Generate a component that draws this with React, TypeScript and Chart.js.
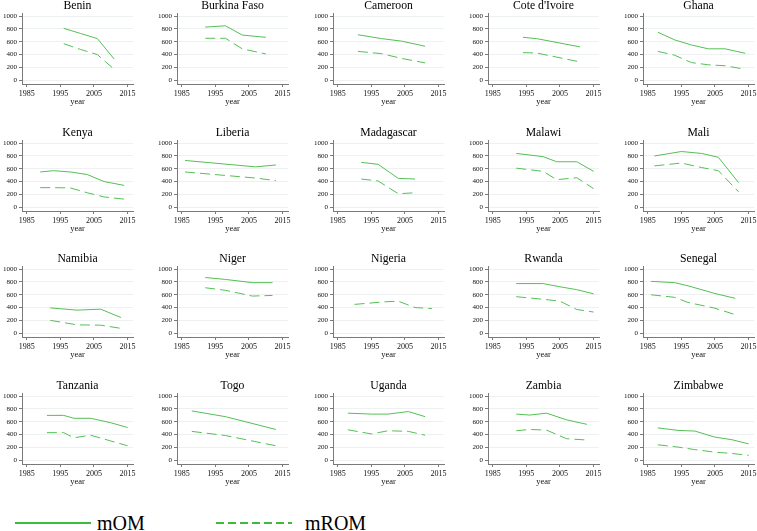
import React, { useEffect, useRef } from "react";
import { Chart, registerables } from "chart.js";

Chart.register(...registerables);

// ---- Data ----
const X_TICKS = [1985, 1995, 2005, 2015];
const Y_TICKS = [0, 200, 400, 600, 800, 1000];

const beninYears = [1996, 2001, 2006, 2011];
const beninMOM = [810, 730, 650, 330];
const beninMROM = [570, 480, 400, 170];

const burkinaYears = [1992, 1998, 2003, 2010];
const burkinaMOM = [830, 850, 705, 670];
const burkinaMROM = [655, 655, 490, 410];

const cameroonYears = [1991, 1998, 2004, 2011];
const cameroonMOM = [710, 650, 610, 530];
const cameroonMROM = [450, 415, 340, 270];

const coteYears = [1994, 1998, 2011];
const coteMOM = [670, 650, 520];
const coteMROM = [430, 425, 285];

const ghanaYears = [1988, 1993, 1998, 2003, 2008, 2014];
const ghanaMOM = [750, 630, 550, 490, 490, 420];
const ghanaMROM = [450, 390, 275, 240, 225, 170];

const kenyaYears = [1989, 1993, 1998, 2003, 2008, 2014];
const kenyaMOM = [550, 570, 550, 510, 400, 340];
const kenyaMROM = [305, 305, 300, 225, 160, 125];

const liberiaYears = [1986, 2007, 2013];
const liberiaMOM = [730, 630, 660];
const liberiaMROM = [550, 455, 415];

const madagascarYears = [1992, 1997, 2003, 2008];
const madagascarMOM = [700, 670, 450, 440];
const madagascarMROM = [440, 410, 210, 225];

const malawiYears = [1992, 2000, 2004, 2010, 2015];
const malawiMOM = [840, 790, 710, 710, 560];
const malawiMROM = [610, 560, 430, 460, 290];

const maliYears = [1987, 1995, 2001, 2006, 2012];
const maliMOM = [800, 870, 840, 780, 385];
const maliMROM = [645, 690, 620, 570, 240];

const namibiaYears = [1992, 2000, 2007, 2013];
const namibiaMOM = [395, 360, 375, 245];
const namibiaMROM = [200, 130, 125, 75];

const nigerYears = [1992, 1998, 2006, 2012];
const nigerMOM = [870, 840, 790, 790];
const nigerMROM = [710, 670, 580, 590];

const nigeriaYears = [1990, 1999, 2003, 2008, 2013];
const nigeriaMOM: (number | null)[] = [null, null, null, null, null];
const nigeriaMROM = [450, 490, 500, 400, 385];

const rwandaYears = [1992, 2000, 2005, 2010, 2015];
const rwandaMOM = [775, 775, 725, 680, 615];
const rwandaMROM = [570, 530, 500, 370, 330];

const senegalYears = [1986, 1993, 1997, 2005, 2011];
const senegalMOM = [810, 790, 740, 620, 545];
const senegalMROM = [600, 560, 480, 390, 290];

const tanzaniaYears = [1991, 1996, 1999, 2004, 2010, 2015];
const tanzaniaMOM = [700, 700, 655, 655, 585, 510];
const tanzaniaMROM = [430, 430, 350, 390, 300, 225];

const togoYears = [1988, 1998, 2013];
const togoMOM = [770, 680, 480];
const togoMROM = [450, 385, 225];

const ugandaYears = [1988, 1995, 2000, 2006, 2011];
const ugandaMOM = [735, 720, 720, 760, 680];
const ugandaMROM = [475, 410, 460, 450, 390];

const zambiaYears = [1992, 1996, 2001, 2007, 2013];
const zambiaMOM = [720, 705, 735, 630, 560];
const zambiaMROM = [460, 480, 470, 335, 315];

const zimbabweYears = [1988, 1994, 1999, 2005, 2010, 2015];
const zimbabweMOM = [505, 465, 455, 360, 320, 255];
const zimbabweMROM = [240, 205, 165, 125, 105, 75];

const PANELS: { title: string; years: number[]; mom: (number | null)[]; mrom: number[] }[] = [
  { title: "Benin", years: beninYears, mom: beninMOM, mrom: beninMROM },
  { title: "Burkina Faso", years: burkinaYears, mom: burkinaMOM, mrom: burkinaMROM },
  { title: "Cameroon", years: cameroonYears, mom: cameroonMOM, mrom: cameroonMROM },
  { title: "Cote d'Ivoire", years: coteYears, mom: coteMOM, mrom: coteMROM },
  { title: "Ghana", years: ghanaYears, mom: ghanaMOM, mrom: ghanaMROM },
  { title: "Kenya", years: kenyaYears, mom: kenyaMOM, mrom: kenyaMROM },
  { title: "Liberia", years: liberiaYears, mom: liberiaMOM, mrom: liberiaMROM },
  { title: "Madagascar", years: madagascarYears, mom: madagascarMOM, mrom: madagascarMROM },
  { title: "Malawi", years: malawiYears, mom: malawiMOM, mrom: malawiMROM },
  { title: "Mali", years: maliYears, mom: maliMOM, mrom: maliMROM },
  { title: "Namibia", years: namibiaYears, mom: namibiaMOM, mrom: namibiaMROM },
  { title: "Niger", years: nigerYears, mom: nigerMOM, mrom: nigerMROM },
  { title: "Nigeria", years: nigeriaYears, mom: nigeriaMOM, mrom: nigeriaMROM },
  { title: "Rwanda", years: rwandaYears, mom: rwandaMOM, mrom: rwandaMROM },
  { title: "Senegal", years: senegalYears, mom: senegalMOM, mrom: senegalMROM },
  { title: "Tanzania", years: tanzaniaYears, mom: tanzaniaMOM, mrom: tanzaniaMROM },
  { title: "Togo", years: togoYears, mom: togoMOM, mrom: togoMROM },
  { title: "Uganda", years: ugandaYears, mom: ugandaMOM, mrom: ugandaMROM },
  { title: "Zambia", years: zambiaYears, mom: zambiaMOM, mrom: zambiaMROM },
  { title: "Zimbabwe", years: zimbabweYears, mom: zimbabweMOM, mrom: zimbabweMROM },
];

// ---- Styles ----
const FONT = "'Liberation Serif', 'Times New Roman', serif";
const LINE_COLOR = "#55bf55";
const LEGEND_COLOR = "#3dbb3d";
const AXIS_COLOR = "#7a7a7a";
const GRID_COLOR = "#edf1f1";
const TEXT_COLOR = "#111";
const PANEL_W = 155;
const PANEL_H = 126;
const COL_STEP = 155.25;
const ROW_STEP = 126.5;

// Panel title centred over the plot region (like the reference), drawn as canvas text
const plotTitlePlugin = {
  id: "plotTitle",
  afterDraw(chart: any, _args: any, opts: any) {
    const { ctx, chartArea } = chart;
    ctx.save();
    ctx.font = `normal 11.7px ${FONT}`;
    ctx.fillStyle = "#000";
    ctx.textAlign = "center";
    ctx.textBaseline = "middle";
    ctx.fillText(opts.text, (chartArea.left + chartArea.right) / 2, 5.8);
    ctx.restore();
  },
};

function Panel(props: { title: string; years: number[]; mom: (number | null)[]; mrom: number[]; left: number; top: number }) {
  const ref = useRef<HTMLCanvasElement>(null);
  useEffect(() => {
    if (!ref.current) return;
    const { title, years, mom, mrom } = props;
    const chart = new Chart(ref.current, {
      type: "line",
      data: {
        datasets: [
          {
            label: "mOM",
            data: years.map((x, i) => ({ x, y: mom[i] ?? null })) as any,
            borderColor: LINE_COLOR,
            borderWidth: 1,
            pointRadius: 0,
            tension: 0,
            fill: false,
          },
          {
            label: "mROM",
            data: years.map((x, i) => ({ x, y: mrom[i] })) as any,
            borderColor: LINE_COLOR,
            borderWidth: 1,
            borderDash: [10, 5],
            pointRadius: 0,
            tension: 0,
            fill: false,
          },
        ],
      },
      plugins: [plotTitlePlugin as any],
      options: {
        responsive: false,
        animation: false,
        events: [],
        layout: { padding: { top: 13, right: 22, bottom: 18, left: 0 } },
        plugins: {
          legend: { display: false },
          tooltip: { enabled: false },
          title: { display: false },
          plotTitle: { text: title },
        } as any,
        scales: {
          x: {
            type: "linear",
            min: 1983.6,
            max: 2016.6,
            afterBuildTicks: (s: any) => {
              s.ticks = X_TICKS.map((v) => ({ value: v }));
            },
            afterFit: (s: any) => {
              s.height = 24;
            },
            grid: { drawOnChartArea: false, drawTicks: true, tickLength: 3, tickColor: AXIS_COLOR },
            border: { color: AXIS_COLOR, width: 1 },
            ticks: {
              font: { family: FONT, size: 8 },
              color: TEXT_COLOR,
              padding: 2,
              maxRotation: 0,
              autoSkip: false,
              callback: (v: any) => String(v),
            },
            title: {
              display: true,
              text: "year",
              color: TEXT_COLOR,
              font: { family: FONT, size: 8.5, lineHeight: 1 },
              padding: { top: 0, bottom: 2 },
            },
          },
          y: {
            type: "linear",
            min: -60,
            max: 1050,
            afterBuildTicks: (s: any) => {
              s.ticks = Y_TICKS.map((v) => ({ value: v }));
            },
            afterFit: (s: any) => {
              s.width = 22;
            },
            grid: { color: GRID_COLOR, lineWidth: 1, drawTicks: true, tickLength: 3, tickColor: AXIS_COLOR },
            border: { color: AXIS_COLOR, width: 1 },
            ticks: {
              font: { family: FONT, size: 7 },
              color: TEXT_COLOR,
              padding: 2,
              autoSkip: false,
              callback: (v: any) => String(v),
            },
          },
        },
      },
    });
    return () => chart.destroy();
  }, []);
  return (
    <canvas
      ref={ref}
      width={PANEL_W}
      height={PANEL_H}
      style={{ position: "absolute", left: props.left, top: props.top, width: PANEL_W, height: PANEL_H }}
    />
  );
}

export default function App() {
  return (
    <div style={{ position: "absolute", left: 0, top: 0, width: 757, height: 531, background: "#fff", overflow: "hidden" }}>
      {PANELS.map((p, i) => {
        const c = i % 5;
        const r = Math.floor(i / 5);
        return (
          <Panel
            key={p.title}
            title={p.title}
            years={p.years}
            mom={p.mom}
            mrom={p.mrom}
            left={Math.round(c * COL_STEP)}
            top={Math.round(r * ROW_STEP)}
          />
        );
      })}
      <svg style={{ position: "absolute", left: 0, top: 510 }} width={757} height={21}>
        <line x1={15} y1={13} x2={91} y2={13} stroke={LEGEND_COLOR} strokeWidth={2} />
        <line x1={216} y1={13} x2={292} y2={13} stroke={LEGEND_COLOR} strokeWidth={2} strokeDasharray="8 4" />
      </svg>
      <div style={{ position: "absolute", left: 97, top: 511, height: 24, lineHeight: "24px", fontFamily: FONT, fontSize: 20, color: "#000" }}>
        mOM
      </div>
      <div style={{ position: "absolute", left: 305, top: 511, height: 24, lineHeight: "24px", fontFamily: FONT, fontSize: 20, color: "#000" }}>
        mROM
      </div>
    </div>
  );
}
